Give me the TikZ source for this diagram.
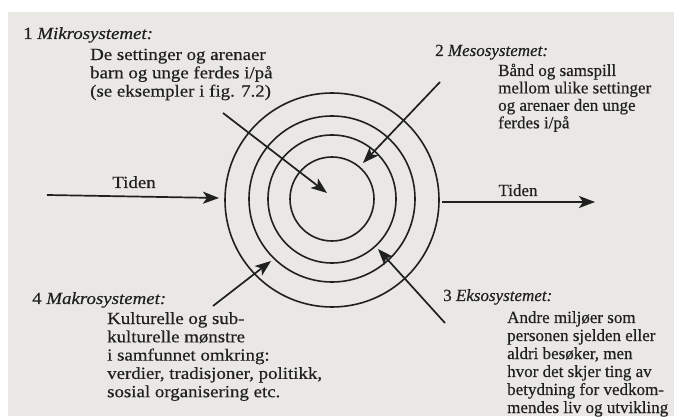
\documentclass[tikz,border=0pt]{standalone}
\usepackage{fontspec}
\setmainfont{Liberation Serif}
\newfontfamily\leftfont[FakeStretch=1.11,FakeBold=0.4]{Liberation Serif}
\newfontfamily\rightfont[FakeBold=0.4]{Liberation Serif}
\usetikzlibrary{arrows.meta}
\definecolor{paper}{RGB}{234,232,229}
\definecolor{ink}{RGB}{32,32,32}
\begin{document}
\begin{tikzpicture}[x=1pt,y=-1pt,
  ring/.style={draw=ink,line width=1.6pt,circle,minimum size=#1,inner sep=0pt},
  arr/.style={draw=ink,line width=1.7pt,-{Stealth[length=16pt,width=12pt,inset=4pt]}},
  ltxt/.style={anchor=base west,inner sep=0pt,text=ink,font=\leftfont\fontsize{17}{18.3}\selectfont},
  rtxt/.style={anchor=base west,inner sep=0pt,text=ink,font=\rightfont\fontsize{17}{18}\selectfont},
  lbl/.style={anchor=base,inner sep=0pt,text=ink}]
\useasboundingbox (0,0) rectangle (674,419);
\fill[white] (0,0) rectangle (674,419);
\fill[paper] (8,12) rectangle (674,416);
% rings
\node[ring=214pt] (r4) at (332,200) {};
\node[ring=166pt] (r3) at (332,199) {};
\node[ring=128pt] (r2) at (332,199) {};
\node[ring=84pt]  (r1) at (332,199) {};
% arrow ends
\coordinate (mikS) at (223,113);
\coordinate (mikE) at (327,193);
\coordinate (mesS) at (440,82);
\coordinate (mesE) at (363,163);
\coordinate (makS) at (213,306);
\coordinate (makE) at (271,261);
\coordinate (ekS) at (445,323);
\coordinate (ekE) at (378,249);
\coordinate (tlS) at (47,195);
\coordinate (tlE) at (219,198);
\coordinate (trS) at (442,202);
\coordinate (trE) at (595,202);
\draw[arr] (mikS) -- (mikE);
\draw[arr] (mesS) -- (mesE);
\draw[arr] (makS) -- (makE);
\draw[arr] (ekS) -- (ekE);
\draw[arr] (tlS) -- (tlE);
\draw[arr] (trS) -- (trE);
\node[lbl,font=\leftfont\fontsize{17}{18}\selectfont] (tidenL) at (134,188) {Tiden};
\node[lbl,font=\rightfont\fontsize{17}{18}\selectfont] (tidenR) at (518,196) {Tiden};
% block 1
\node[ltxt] (t1) at (23,39) {1 \textit{Mikrosystemet:}};
\node[ltxt] (b1) at (90,60) {\begin{tabular}[t]{@{}l@{}}De settinger og arenaer\\barn og unge ferdes i/på\\(se eksempler i fig. 7.2)\end{tabular}};
% block 2
\node[rtxt] (t2) at (435,56) {2 \textit{Mesosystemet:}};
\node[rtxt,font=\rightfont\fontsize{17}{17.4}\selectfont] (b2) at (498,76) {\begin{tabular}[t]{@{}l@{}}Bånd og samspill\\mellom ulike settinger\\og arenaer den unge\\ferdes i/på\end{tabular}};
% block 3
\node[rtxt] (t3) at (443,301) {3 \textit{Eksosystemet:}};
\node[rtxt] (b3) at (507,323) {\begin{tabular}[t]{@{}l@{}}Andre miljøer som\\personen sjelden eller\\aldri besøker, men\\hvor det skjer ting av\\betydning for vedkom-\\mendes liv og utvikling\end{tabular}};
% block 4
\node[ltxt] (t4) at (32,304) {4 \textit{Makrosystemet:}};
\node[ltxt] (b4) at (107,324) {\begin{tabular}[t]{@{}l@{}}Kulturelle og sub-\\kulturelle mønstre\\i samfunnet omkring:\\verdier, tradisjoner, politikk,\\sosial organisering etc.\end{tabular}};
\end{tikzpicture}
\end{document}
